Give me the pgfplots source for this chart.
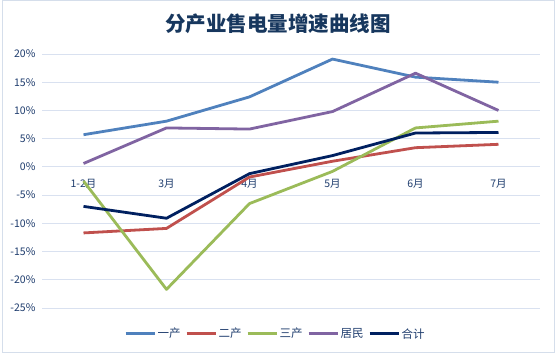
\documentclass[border=0pt]{standalone}
\usepackage{pgfplots}
\pgfplotsset{compat=1.18}
\usepackage{fontspec}
\setmainfont{Noto Sans CJK SC}
\definecolor{cBlue}{HTML}{4F81BD}
\definecolor{cRed}{HTML}{C0504D}
\definecolor{cGreen}{HTML}{9BBB59}
\definecolor{cPurple}{HTML}{8064A2}
\definecolor{cNavy}{HTML}{002060}
\definecolor{cGrid}{HTML}{D9E1F0}
\definecolor{cText}{HTML}{1F3D6E}
\definecolor{cTitle}{HTML}{17375E}
\definecolor{cBorder}{HTML}{D5DEEB}
\begin{document}
\begin{tikzpicture}[x=1pt,y=1pt]
\path[fill=white] (0,0) rectangle (559,363);
\draw[cBorder, line width=1pt] (2,10) rectangle (554,362);
\node[font=\bfseries\fontsize{20.5}{22}\selectfont, text=cTitle] at (278,339) {分产业售电量增速曲线图};
\begin{axis}[
  at={(42pt,55pt)}, anchor=south west,
  scale only axis, width=498pt, height=254pt,
  xmin=-0.5, xmax=5.5, ymin=-25, ymax=20,
  xtick={0,1,2,3,4,5},
  xticklabels={1-2月,3月,4月,5月,6月,7月},
  ytick={-25,-20,-15,-10,-5,0,5,10,15,20},
  yticklabels={-25\%,-20\%,-15\%,-10\%,-5\%,0\%,5\%,10\%,15\%,20\%},
  axis line style={draw=none},
  major tick length=0pt,
  ymajorgrids, grid style={cGrid, line width=0.9pt},
  tick label style={font=\fontsize{10.5}{12}\selectfont, text=cText},
  xticklabel style={yshift=132pt},
  yticklabel style={xshift=-3pt},
  /pgf/number format/assume math mode=true,
  legend columns=5,
  legend style={at={(0.468,-0.102)}, anchor=center, draw=none, fill=none,
    font=\fontsize{11.5}{13}\selectfont, text=cText,
    /tikz/every odd column/.append style={column sep=0pt},
    /tikz/every even column/.append style={column sep=3pt},
    nodes={inner xsep=1.5pt}},
  legend image code/.code={\draw[#1, line width=3pt] (0pt,0pt) -- (29pt,0pt);},
  every axis plot/.append style={line width=2.8pt, line join=round, mark=none},
]
\addplot[cBlue] coordinates {(0,5.7) (1,8.1) (2,12.4) (3,19.1) (4,15.9) (5,15.0)};
\addlegendentry{一产}
\addplot[cRed] coordinates {(0,-11.7) (1,-10.9) (2,-1.8) (3,1.0) (4,3.4) (5,4.0)};
\addlegendentry{二产}
\addplot[cGreen] coordinates {(0,-2.5) (1,-21.7) (2,-6.5) (3,-0.8) (4,6.9) (5,8.1)};
\addlegendentry{三产}
\addplot[cPurple] coordinates {(0,0.6) (1,6.9) (2,6.7) (3,9.8) (4,16.6) (5,10.0)};
\addlegendentry{居民}
\addplot[cNavy] coordinates {(0,-7.0) (1,-9.1) (2,-1.2) (3,2.0) (4,6.0) (5,6.1)};
\addlegendentry{合计}
\end{axis}
\end{tikzpicture}
\end{document}
